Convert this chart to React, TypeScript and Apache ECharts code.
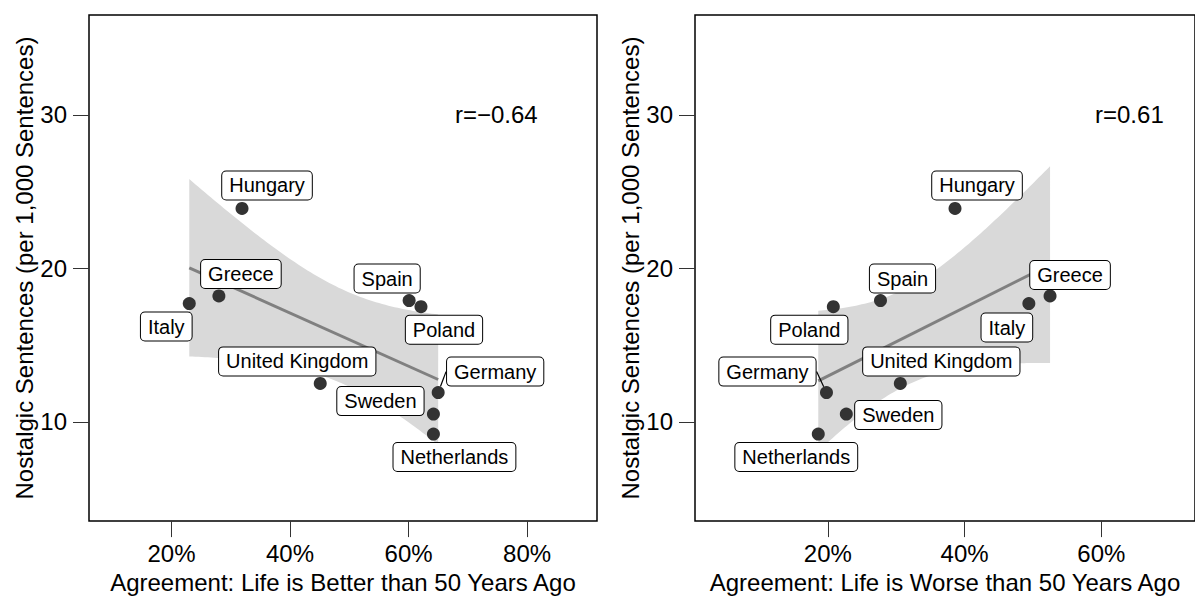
import React, { useEffect, useRef } from "react";
import * as echarts from "echarts";

// Countries shown in both panels
const countries = [
  "Hungary",
  "Greece",
  "Italy",
  "Spain",
  "Poland",
  "United Kingdom",
  "Germany",
  "Sweden",
  "Netherlands",
];

// Nostalgic sentences per 1,000 sentences (y in both panels)
const nostalgicPer1000 = [23.9, 18.2, 17.7, 17.9, 17.5, 12.5, 11.9, 10.5, 9.2];

// Share agreeing that life is better / worse than 50 years ago (%)
const agreeBetter = [31.9, 28.0, 23.0, 60.1, 62.1, 45.1, 65.0, 64.2, 64.2];
const agreeWorse = [38.6, 52.5, 49.4, 27.7, 20.8, 30.6, 19.8, 22.7, 18.6];

// Correlation annotations
const correlationLabels = ["r=\u22120.64", "r=0.61"];

// Tick values
const xTicksBetter = [20, 40, 60, 80];
const xTicksWorse = [20, 40, 60];
const yTicks = [10, 20, 30];

// Axis titles
const xTitles = [
  "Agreement: Life is Better than 50 Years Ago",
  "Agreement: Life is Worse than 50 Years Ago",
];
const yTitle = "Nostalgic Sentences (per 1,000 Sentences)";

// Layout: label nudges (px, label centre relative to its point)
const nudgeBetter = [
  [25, -23], [22, -22], [-23, 23], [-22, -22], [23, 23],
  [-23, -22], [57, -21], [-53, -13], [21, 23],
];
const nudgeWorse = [
  [22, -23], [20, -21], [-22, 24], [22, -22], [-24, 23],
  [41, -22], [-59, -21], [52, 1], [-22, 23],
];
// Labels far enough from their point to get a leader segment
const withLeader = ["Germany"];

// Where the r annotation sits, in data units of each panel
const corrAnchors = [
  [74.8, 30],
  [64.1, 30],
];

// Axis ranges
const xRanges = [
  [6.08, 91.8],
  [0.57, 73.7],
];
const yRange = [3.53, 36.5];

// Student t quantile (0.975, df = 7) for the 95% confidence band
const T_975_DF7 = 2.3646;

function linearFit(xs: number[], ys: number[]) {
  const n = xs.length;
  const mx = xs.reduce((a, b) => a + b, 0) / n;
  const my = ys.reduce((a, b) => a + b, 0) / n;
  let sxx = 0;
  let sxy = 0;
  xs.forEach((x, i) => {
    sxx += (x - mx) * (x - mx);
    sxy += (x - mx) * (ys[i] - my);
  });
  const slope = sxy / sxx;
  const icpt = my - slope * mx;
  let sse = 0;
  xs.forEach((x, i) => {
    const r = ys[i] - (icpt + slope * x);
    sse += r * r;
  });
  const s = Math.sqrt(sse / (n - 2));
  const predict = (x: number) => icpt + slope * x;
  const halfWidth = (x: number) =>
    T_975_DF7 * s * Math.sqrt(1 / n + ((x - mx) * (x - mx)) / sxx);
  return { predict, halfWidth };
}

const FONT = "'Liberation Sans', Arial, Helvetica, sans-serif";

function panelSeries(idx: number, xs: number[], nudges: number[][]) {
  const fit = linearFit(xs, nostalgicPer1000);
  const x0 = Math.min(...xs);
  const x1 = Math.max(...xs);
  const steps = 80;
  const upper: number[][] = [];
  const lower: number[][] = [];
  for (let k = 0; k <= steps; k++) {
    const x = x0 + ((x1 - x0) * k) / steps;
    const yh = fit.predict(x);
    const hw = fit.halfWidth(x);
    upper.push([x, yh + hw]);
    lower.push([x, yh - hw]);
  }

  return [
    {
      type: "custom",
      xAxisIndex: idx,
      yAxisIndex: idx,
      silent: true,
      z: 1,
      data: [[x0, fit.predict(x0)]],
      renderItem: (_params: any, api: any) => {
        const pts = upper
          .map((p) => api.coord(p))
          .concat(lower.slice().reverse().map((p) => api.coord(p)));
        return {
          type: "polygon",
          shape: { points: pts },
          style: { fill: "#d9d9d9", stroke: "none" },
        };
      },
    },
    {
      type: "line",
      xAxisIndex: idx,
      yAxisIndex: idx,
      silent: true,
      z: 2,
      symbol: "none",
      lineStyle: { color: "#808080", width: 3 },
      data: [
        [x0, fit.predict(x0)],
        [x1, fit.predict(x1)],
      ],
    },
    {
      type: "scatter",
      xAxisIndex: idx,
      yAxisIndex: idx,
      z: 3,
      symbol: "circle",
      symbolSize: 13,
      itemStyle: { color: "#333333", opacity: 1 },
      label: {
        show: true,
        position: "inside",
        formatter: "{b}",
        color: "#000",
        fontFamily: FONT,
        fontSize: 20,
        lineHeight: 20,
        backgroundColor: "#fff",
        borderColor: "#000",
        borderWidth: 1,
        borderRadius: 4,
        padding: [4, 7, 4, 7],
      },
      labelLine: { show: false, lineStyle: { color: "#000", width: 1.2 } },
      labelLayout: (params: any) => {
        const nd = nudges[params.dataIndex];
        return { dx: nd[0], dy: nd[1], hideOverlap: false };
      },
      data: countries.map((name, i) => ({
        name,
        value: [xs[i], nostalgicPer1000[i]],
        labelLine: { show: withLeader.includes(name) },
      })),
    },
    {
      type: "scatter",
      xAxisIndex: idx,
      yAxisIndex: idx,
      silent: true,
      z: 4,
      symbol: "circle",
      symbolSize: 1,
      itemStyle: { color: "#ffffff" },
      label: {
        show: true,
        position: "inside",
        formatter: correlationLabels[idx],
        color: "#000000",
        opacity: 1,
        textBorderWidth: 0,
        fontFamily: FONT,
        fontSize: 24,
      },
      data: [corrAnchors[idx]],
    },
  ];
}

function xAxis(idx: number, ticks: number[]) {
  return {
    type: "value",
    gridIndex: idx,
    min: xRanges[idx][0],
    max: xRanges[idx][1],
    name: xTitles[idx],
    nameLocation: "middle",
    nameGap: 44,
    nameTextStyle: { color: "#000", fontSize: 24, fontFamily: FONT },
    axisLine: { show: false },
    splitLine: { show: false },
    axisTick: {
      show: true,
      length: 16,
      customValues: ticks,
      lineStyle: { color: "#333", width: 1 },
    },
    axisLabel: {
      margin: 20,
      color: "#000",
      fontSize: 24,
      fontFamily: FONT,
      customValues: ticks,
      formatter: "{value}%",
    },
  };
}

function yAxis(idx: number) {
  return {
    type: "value",
    gridIndex: idx,
    min: yRange[0],
    max: yRange[1],
    name: yTitle,
    nameLocation: "middle",
    nameGap: 53,
    nameTextStyle: { color: "#000", fontSize: 24, fontFamily: FONT },
    axisLine: { show: false },
    splitLine: { show: false },
    axisTick: {
      show: true,
      length: 16,
      customValues: yTicks,
      lineStyle: { color: "#333", width: 1 },
    },
    axisLabel: {
      margin: 22,
      color: "#000",
      fontSize: 24,
      fontFamily: FONT,
      customValues: yTicks,
    },
  };
}

export default function App() {
  const ref = useRef<HTMLDivElement>(null);

  useEffect(() => {
    document.body.style.margin = "0";
    if (!ref.current) return;
    const chart = echarts.init(ref.current, undefined, { renderer: "svg" });
    chart.setOption({
      animation: false,
      backgroundColor: "#fff",
      textStyle: { fontFamily: FONT },
      grid: [
        {
          left: 89,
          top: 15,
          width: 508,
          height: 513,
          show: true,
          borderColor: "#000",
          borderWidth: 1.5,
          backgroundColor: "transparent",
        },
        {
          left: 695,
          top: 15,
          width: 502,
          height: 513,
          show: true,
          borderColor: "#000",
          borderWidth: 1.5,
          backgroundColor: "transparent",
        },
      ],
      xAxis: [xAxis(0, xTicksBetter), xAxis(1, xTicksWorse)],
      yAxis: [yAxis(0), yAxis(1)],
      series: [
        ...panelSeries(0, agreeBetter, nudgeBetter),
        ...panelSeries(1, agreeWorse, nudgeWorse),
      ],
    });
    return () => chart.dispose();
  }, []);

  return (
    <div
      ref={ref}
      style={{ position: "absolute", left: 0, top: 0, width: 1195, height: 599 }}
    />
  );
}
